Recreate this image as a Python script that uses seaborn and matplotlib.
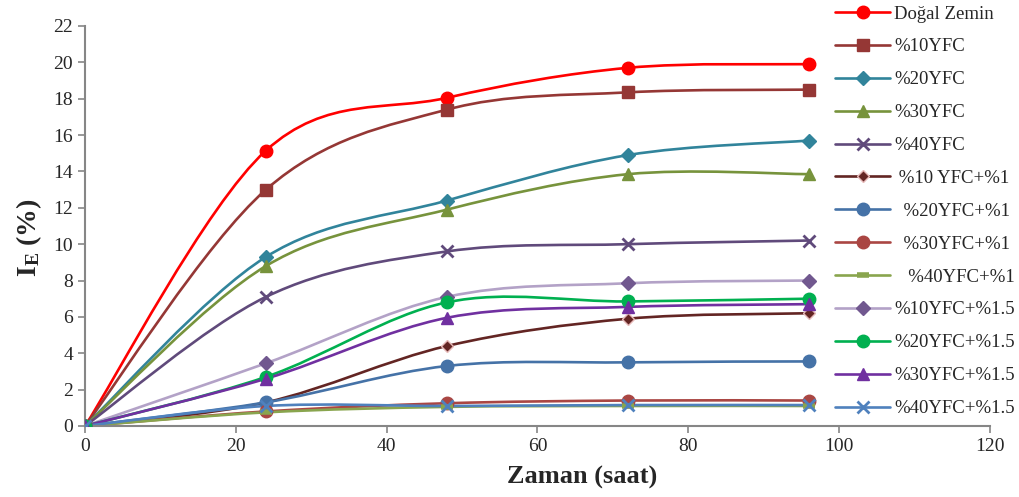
import numpy as np
import matplotlib
matplotlib.use('Agg')
import matplotlib.pyplot as plt
import seaborn as sns
from matplotlib.path import Path
from matplotlib.patches import PathPatch
from matplotlib.lines import Line2D

# ---- data ----
time_h = [0, 24, 48, 72, 96]

labels = ['Doğal Zemin', '%10YFC', '%20YFC', '%30YFC', '%40YFC',
          ' %10 YFC+%1', '  %20YFC+%1', '  %30YFC+%1', '   %40YFC+%1',
          '%10YFC+%1.5', '%20YFC+%1.5', '%30YFC+%1.5', '%40YFC+%1.5']

dogal = [0, 15.15, 18.05, 19.7, 19.9]
yfc10 = [0, 13.0, 17.4, 18.35, 18.5]
yfc20 = [0, 9.3, 12.4, 14.9, 15.7]
yfc30 = [0, 8.8, 11.9, 13.85, 13.85]
yfc40 = [0, 7.1, 9.6, 10.0, 10.2]
yfc10_1 = [0, 1.3, 4.4, 5.9, 6.2]
yfc20_1 = [0, 1.3, 3.3, 3.5, 3.55]
yfc30_1 = [0, 0.8, 1.25, 1.4, 1.4]
yfc40_1 = [0, 0.75, 1.05, 1.1, 1.1]
yfc10_15 = [0, 3.45, 7.1, 7.85, 8.0]
yfc20_15 = [0, 2.7, 6.8, 6.85, 7.0]
yfc30_15 = [0, 2.6, 5.95, 6.55, 6.7]
yfc40_15 = [0, 1.1, 1.1, 1.15, 1.15]

series = [dogal, yfc10, yfc20, yfc30, yfc40, yfc10_1, yfc20_1, yfc30_1,
          yfc40_1, yfc10_15, yfc20_15, yfc30_15, yfc40_15]

# line colour, marker, marker face, marker edge, marker size
styles = [
    ('#FF0000', 'o', '#FF0000', '#FF0000', 9),
    ('#953735', 's', '#953735', '#953735', 8),
    ('#31849B', 'D', '#31849B', '#31849B', 7),
    ('#77933C', '^', '#77933C', '#77933C', 9),
    ('#604A7B', 'x', '#604A7B', '#604A7B', 8),
    ('#632523', 'D', '#632523', '#E6B9B8', 6),
    ('#4572A7', 'o', '#4572A7', '#4572A7', 9),
    ('#AA4643', 'o', '#AA4643', '#AA4643', 9),
    ('#89A54E', '_', '#89A54E', '#89A54E', 9),
    ('#B3A2C7', 'D', '#71588F', '#71588F', 7),
    ('#00B050', 'o', '#00B050', '#00B050', 9),
    ('#7030A0', '^', '#7030A0', '#7030A0', 9),
    ('#4F81BD', 'x', '#4F81BD', '#4F81BD', 8),
]

sns.set_style('white')
plt.rcParams['font.family'] = ['Liberation Serif', 'DejaVu Serif']
plt.rcParams['mathtext.fontset'] = 'custom'
plt.rcParams['mathtext.rm'] = 'Liberation Serif'
plt.rcParams['mathtext.bf'] = 'Liberation Serif:bold'


def smooth_path(xs, ys):
    # Excel-like smoothed line: cubic bezier through the points
    p = np.column_stack([xs, ys]).astype(float)
    n = len(p)
    verts = [p[0]]
    codes = [Path.MOVETO]
    for i in range(n - 1):
        p0 = p[i - 1] if i > 0 else p[i]
        p3 = p[i + 2] if i + 2 < n else p[i + 1]
        c1 = p[i] + (p[i + 1] - p0) / 6
        c2 = p[i + 1] - (p3 - p[i]) / 6
        verts += [c1, c2, p[i + 1]]
        codes += [Path.CURVE4] * 3
    return Path(verts, codes)


fig = plt.figure(figsize=(10.19, 4.97), dpi=100)
ax = fig.add_axes([0.0834, 0.1429, 0.888, 0.8048])

handles = []
for vals, lab, (lc, mk, mf, me, ms) in zip(series, labels, styles):
    ax.add_patch(PathPatch(smooth_path(time_h, vals), facecolor='none',
                           edgecolor=lc, lw=1.9, zorder=2))
    mew = 2.0 if mk == 'x' else 1.0
    if mk == '_':
        mew = 4.0
    sns.lineplot(x=time_h, y=vals, ax=ax, linestyle='none', marker=mk,
                 markersize=ms, markerfacecolor=mf, markeredgecolor=me,
                 markeredgewidth=mew, color=lc, legend=False, zorder=3)
    handles.append(Line2D([], [], color=lc, lw=1.9, marker=mk, markersize=ms,
                          markerfacecolor=mf, markeredgecolor=me,
                          markeredgewidth=mew))

ax.set_xlim(0, 120)
ax.set_ylim(0, 22)
ax.set_xticks(range(0, 121, 20))
ax.set_yticks(range(0, 23, 2))
ax.tick_params(axis='both', labelsize=14, direction='out', length=5,
               width=1.2, color='#868686', bottom=True, left=True)
for s in ['top', 'right']:
    ax.spines[s].set_visible(False)
for s in ['left', 'bottom']:
    ax.spines[s].set_color('#868686')
    ax.spines[s].set_linewidth(1.5)

ax.set_xlabel('Zaman (saat)', fontsize=19, fontweight='bold')
ax.xaxis.set_label_coords(0.549, -0.1)
ax.set_ylabel(r'$\mathbf{I_E}$ (%)', fontsize=20, fontweight='bold')
ax.yaxis.set_label_coords(-0.045, 0.47)

fig.legend(handles, labels, loc='upper left', bbox_to_anchor=(0.8194, 0.989),
           frameon=False, fontsize=13.5, handlelength=2.95, handletextpad=0.2,
           labelspacing=0.84, borderaxespad=0, borderpad=0)

fig.savefig('out.png', dpi=100)
